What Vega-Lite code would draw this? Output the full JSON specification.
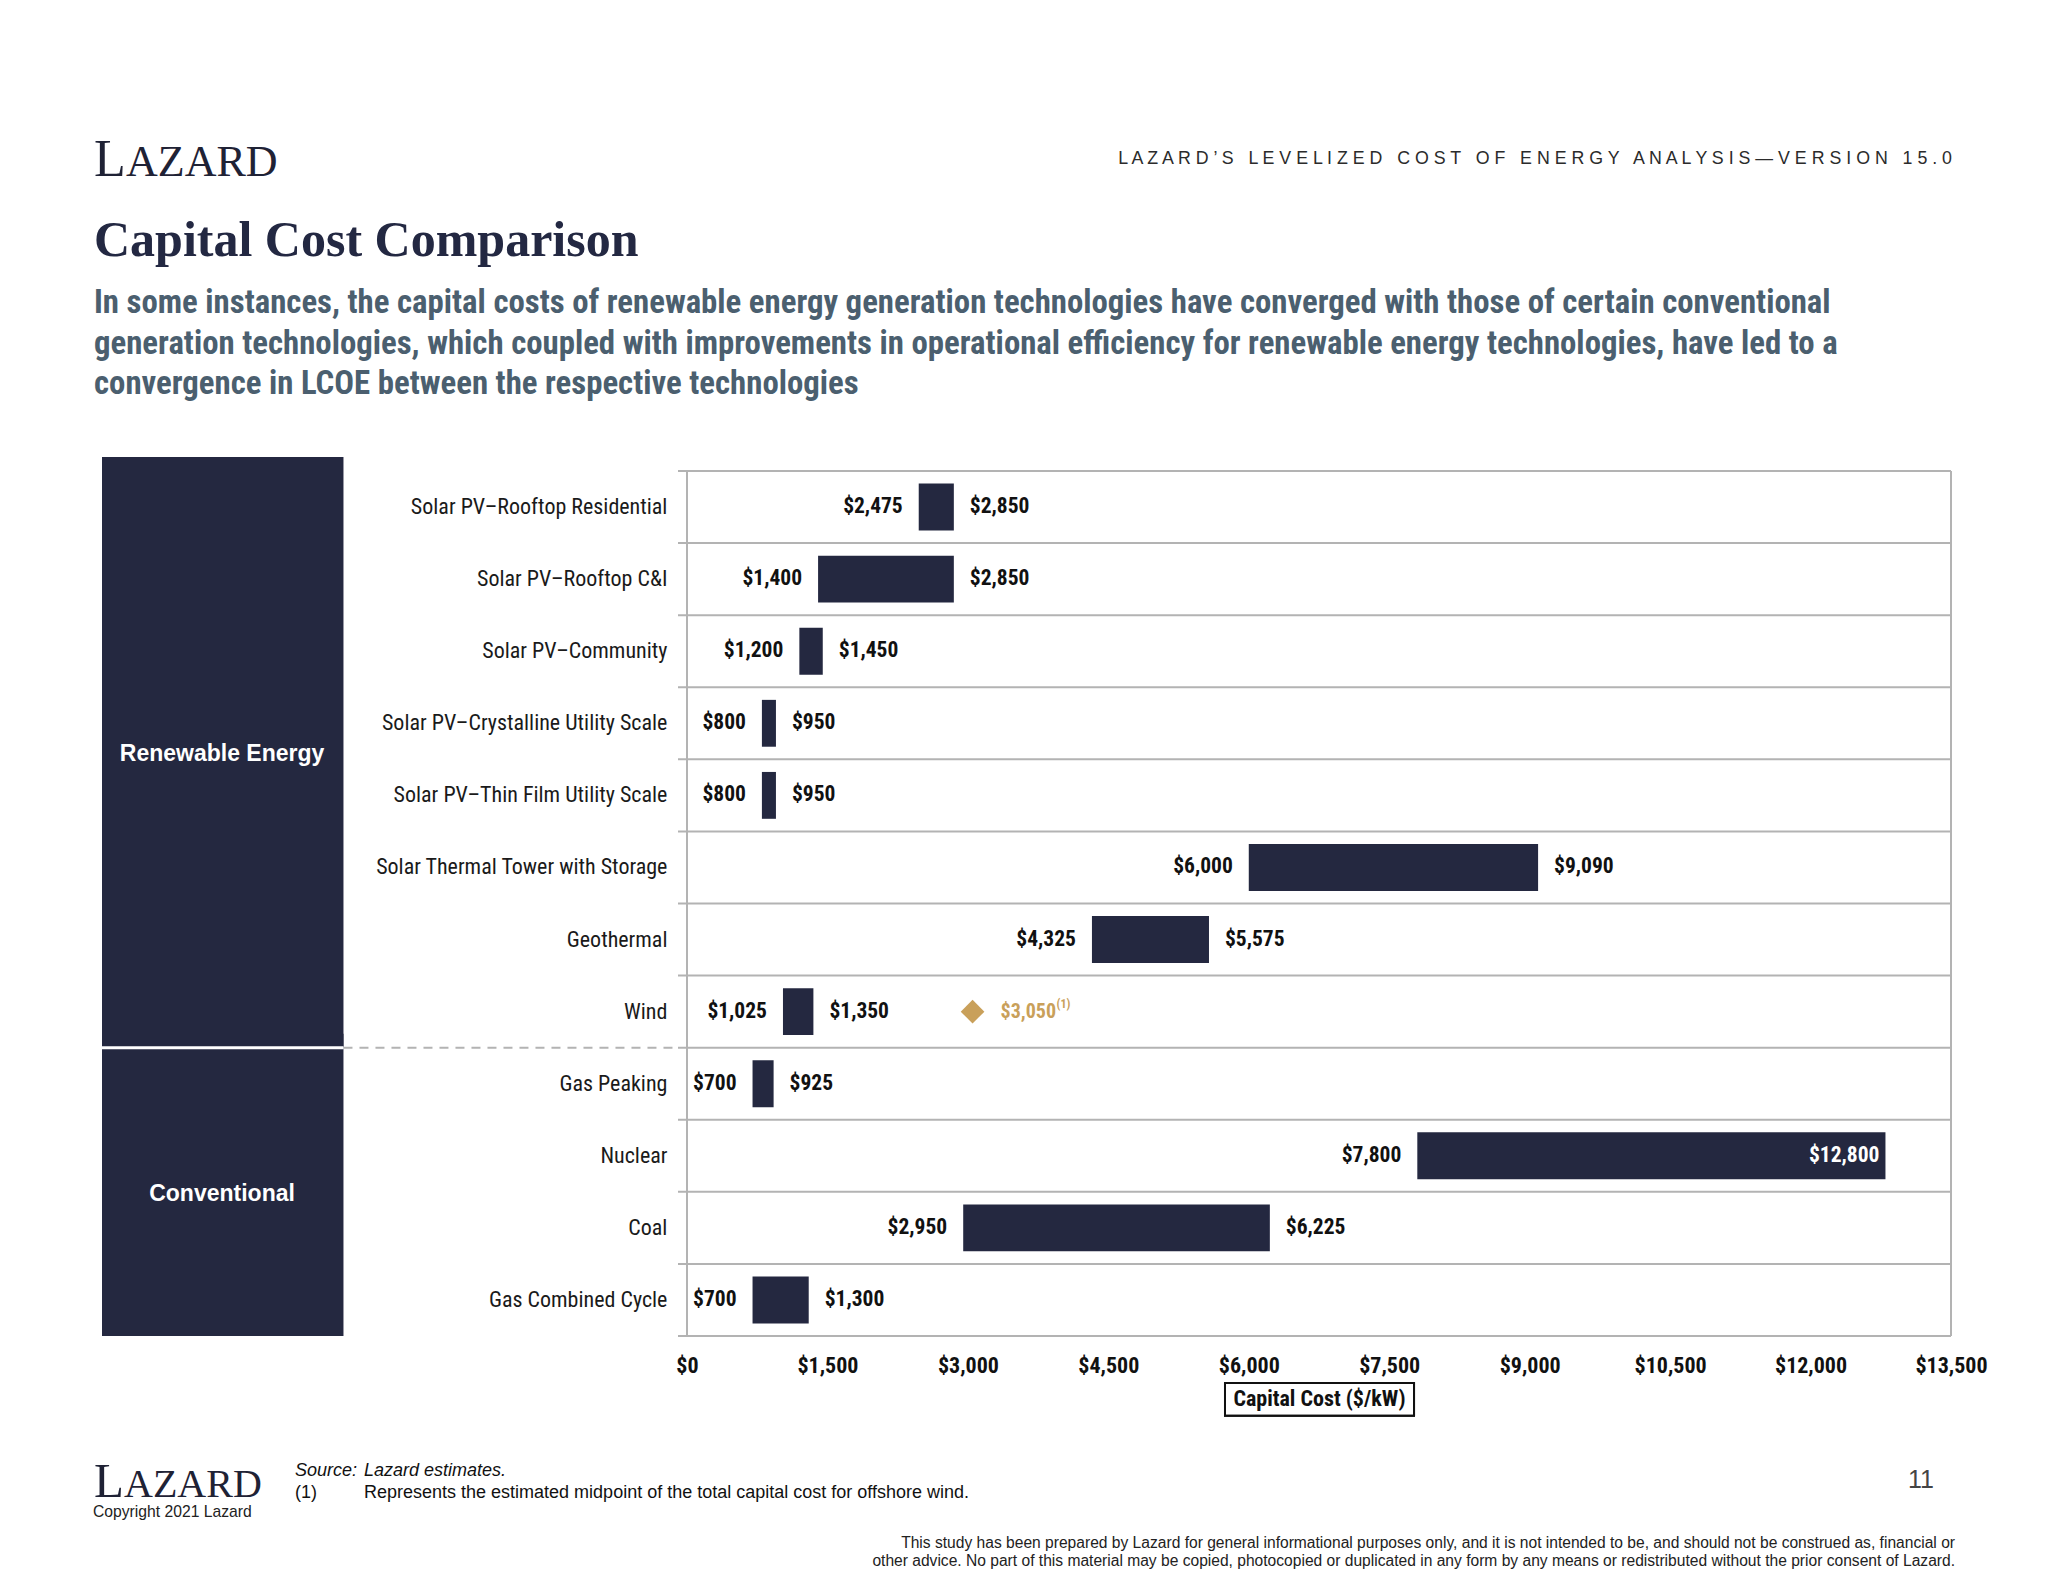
{
  "$schema": "https://vega.github.io/schema/vega-lite/v6.json",
  "width": 1849,
  "height": 865,
  "autosize": {"type": "none"},
  "padding": {"left": 102, "top": 471, "right": 97, "bottom": 246},
  "background": "white",
  "config": {"view": {"stroke": null}},
  "datasets": {
    "tech": [
      {"tech": "Solar PV–Rooftop Residential", "low": 2475, "high": 2850},
      {"tech": "Solar PV–Rooftop C&I", "low": 1400, "high": 2850},
      {"tech": "Solar PV–Community", "low": 1200, "high": 1450},
      {"tech": "Solar PV–Crystalline Utility Scale", "low": 800, "high": 950},
      {"tech": "Solar PV–Thin Film Utility Scale", "low": 800, "high": 950},
      {"tech": "Solar Thermal Tower with Storage", "low": 6000, "high": 9090},
      {"tech": "Geothermal", "low": 4325, "high": 5575},
      {"tech": "Wind", "low": 1025, "high": 1350, "offshore": 3050},
      {"tech": "Gas Peaking", "low": 700, "high": 925},
      {"tech": "Nuclear", "low": 7800, "high": 12800},
      {"tech": "Coal", "low": 2950, "high": 6225},
      {"tech": "Gas Combined Cycle", "low": 700, "high": 1300}
    ],
    "groups": [
      {"group": "Renewable Energy", "startRow": 0, "endRow": 8},
      {"group": "Conventional", "startRow": 8, "endRow": 12}
    ]
  },
  "resolve": {"scale": {"y": "independent"}},
  "layer": [
    {
      "data": {"name": "groups"},
      "layer": [
        {
          "mark": {"type": "rect", "color": "#242840", "yOffset": -14},
          "encoding": {
            "x": {"datum": -6248},
            "x2": {"datum": -3669},
            "y": {"field": "startRow", "type": "quantitative", "axis": null, "scale": {"domain": [0, 12], "reverse": true, "nice": false, "zero": false}},
            "y2": {"field": "endRow"}
          }
        },
        {
          "transform": [
            {"filter": "datum.group === 'Renewable Energy'"},
            {"fold": ["startRow", "endRow"], "as": ["edge", "row"]},
            {"aggregate": [{"op": "mean", "field": "row", "as": "mid"}], "groupby": ["group"]}
          ],
          "mark": {"type": "text", "color": "white", "font": "Liberation Sans, Arial, sans-serif", "fontWeight": "bold", "fontSize": 23, "align": "center", "baseline": "middle", "dy": -5},
          "encoding": {
            "x": {"datum": -4966},
            "y": {"field": "mid", "type": "quantitative", "axis": null},
            "text": {"field": "group"}
          }
        },
        {
          "transform": [
            {"filter": "datum.group === 'Conventional'"},
            {"fold": ["startRow", "endRow"], "as": ["edge", "row"]},
            {"aggregate": [{"op": "mean", "field": "row", "as": "mid"}], "groupby": ["group"]}
          ],
          "mark": {"type": "text", "color": "white", "font": "Liberation Sans, Arial, sans-serif", "fontWeight": "bold", "fontSize": 23, "align": "center", "baseline": "middle", "dy": 2},
          "encoding": {
            "x": {"datum": -4966},
            "y": {"field": "mid", "type": "quantitative", "axis": null},
            "text": {"field": "group"}
          }
        },
        {
          "mark": {"type": "rule", "color": "#b3b3b3", "strokeWidth": 2},
          "encoding": {"x": {"datum": 0}, "y": {"datum": 0}, "y2": {"datum": 12}}
        },
        {
          "mark": {"type": "rule", "color": "#b3b3b3", "strokeWidth": 2},
          "encoding": {"x": {"datum": 13500}, "y": {"datum": 0}, "y2": {"datum": 12}}
        },
        {
          "mark": {"type": "rect", "fill": null, "fillOpacity": 0, "stroke": "#111111", "strokeWidth": 2},
          "encoding": {"x": {"datum": 5746}, "x2": {"datum": 7765}, "y": {"datum": 12.652}, "y2": {"datum": 13.106}}
        }
      ]
    },
    {
      "data": {"name": "tech"},
      "layer": [
        {
          "mark": {"type": "rule", "color": "#b3b3b3", "strokeWidth": 2},
          "encoding": {
            "y": {"field": "tech", "type": "nominal", "bandPosition": 0, "axis": null, "scale": {"domain": ["Solar PV–Rooftop Residential", "Solar PV–Rooftop C&I", "Solar PV–Community", "Solar PV–Crystalline Utility Scale", "Solar PV–Thin Film Utility Scale", "Solar Thermal Tower with Storage", "Geothermal", "Wind", "Gas Peaking", "Nuclear", "Coal", "Gas Combined Cycle"], "paddingInner": 0, "paddingOuter": 0}},
            "x": {"datum": -96},
            "x2": {"datum": 13500}
          }
        },
        {
          "transform": [{"filter": "datum.tech === 'Gas Combined Cycle'"}],
          "mark": {"type": "rule", "color": "#b3b3b3", "strokeWidth": 2},
          "encoding": {
            "y": {"field": "tech", "type": "nominal", "bandPosition": 1, "axis": null},
            "x": {"datum": -96},
            "x2": {"datum": 13500}
          }
        },
        {
          "transform": [{"filter": "datum.tech === 'Gas Peaking'"}],
          "mark": {"type": "rule", "color": "#b3b3b3", "strokeWidth": 2, "strokeDash": [9, 7]},
          "encoding": {
            "y": {"field": "tech", "type": "nominal", "bandPosition": 0, "axis": null},
            "x": {"datum": -3669},
            "x2": {"datum": -96}
          }
        },
        {
          "transform": [{"filter": "datum.tech === 'Gas Peaking'"}],
          "mark": {"type": "rule", "color": "white", "strokeWidth": 3},
          "encoding": {
            "y": {"field": "tech", "type": "nominal", "bandPosition": 0, "axis": null},
            "x": {"datum": -6248},
            "x2": {"datum": -3669}
          }
        },
        {
          "mark": {"type": "text", "align": "right", "baseline": "middle", "font": "Liberation Sans Narrow, Arial Narrow, Roboto Condensed, DejaVu Sans Condensed, sans-serif", "fontSize": 22, "color": "#1a1a1a"},
          "encoding": {
            "y": {"field": "tech", "type": "nominal", "axis": null},
            "x": {"datum": -209},
            "text": {"field": "tech"}
          }
        },
        {
          "mark": {"type": "bar", "color": "#242840", "height": {"band": 0.65}},
          "encoding": {
            "y": {"field": "tech", "type": "nominal", "axis": null},
            "x": {
              "field": "low", "type": "quantitative",
              "scale": {"domain": [-6248, 13500], "nice": false, "zero": false},
              "axis": {
                "values": [0, 1500, 3000, 4500, 6000, 7500, 9000, 10500, 12000, 13500],
                "format": "$,.0f",
                "domain": false, "ticks": false, "grid": false,
                "labelFont": "Liberation Sans Narrow, Arial Narrow, Roboto Condensed, DejaVu Sans Condensed, sans-serif",
                "labelFontWeight": "bold", "labelFontSize": 22, "labelColor": "#111111",
                "labelPadding": 19, "labelOverlap": false, "labelFlush": false,
                "title": "Capital Cost ($/kW)",
                "titleFont": "Liberation Sans Narrow, Arial Narrow, Roboto Condensed, DejaVu Sans Condensed, sans-serif",
                "titleFontWeight": "bold", "titleFontSize": 22, "titleColor": "#111111",
                "titleX": 1217, "titleY": 62, "titleAlign": "center", "titleBaseline": "middle", "titleAngle": 0
              }
            },
            "x2": {"field": "high"}
          }
        },
        {
          "mark": {"type": "text", "align": "right", "baseline": "middle", "dx": -16, "font": "Liberation Sans Narrow, Arial Narrow, Roboto Condensed, DejaVu Sans Condensed, sans-serif", "fontWeight": "bold", "fontSize": 21.5, "color": "#111111"},
          "encoding": {
            "y": {"field": "tech", "type": "nominal", "axis": null},
            "x": {"field": "low", "type": "quantitative"},
            "text": {"field": "low", "type": "quantitative", "format": "$,.0f"}
          }
        },
        {
          "transform": [{"filter": "datum.tech !== 'Nuclear'"}],
          "mark": {"type": "text", "align": "left", "baseline": "middle", "dx": 16, "font": "Liberation Sans Narrow, Arial Narrow, Roboto Condensed, DejaVu Sans Condensed, sans-serif", "fontWeight": "bold", "fontSize": 21.5, "color": "#111111"},
          "encoding": {
            "y": {"field": "tech", "type": "nominal", "axis": null},
            "x": {"field": "high", "type": "quantitative"},
            "text": {"field": "high", "type": "quantitative", "format": "$,.0f"}
          }
        },
        {
          "transform": [{"filter": "datum.tech === 'Nuclear'"}],
          "mark": {"type": "text", "align": "right", "baseline": "middle", "dx": -6, "font": "Liberation Sans Narrow, Arial Narrow, Roboto Condensed, DejaVu Sans Condensed, sans-serif", "fontWeight": "bold", "fontSize": 21.5, "color": "white"},
          "encoding": {
            "y": {"field": "tech", "type": "nominal", "axis": null},
            "x": {"field": "high", "type": "quantitative"},
            "text": {"field": "high", "type": "quantitative", "format": "$,.0f"}
          }
        },
        {
          "transform": [{"filter": "isValid(datum.offshore)"}],
          "mark": {"type": "point", "shape": "diamond", "filled": true, "color": "#c9a05a", "opacity": 1, "size": 560},
          "encoding": {
            "y": {"field": "tech", "type": "nominal", "axis": null},
            "x": {"field": "offshore", "type": "quantitative"}
          }
        },
        {
          "transform": [{"filter": "isValid(datum.offshore)"}],
          "mark": {"type": "text", "align": "left", "baseline": "middle", "dx": 28, "font": "Liberation Sans Narrow, Arial Narrow, Roboto Condensed, DejaVu Sans Condensed, sans-serif", "fontWeight": "bold", "fontSize": 20, "color": "#c9a05a"},
          "encoding": {
            "y": {"field": "tech", "type": "nominal", "axis": null},
            "x": {"field": "offshore", "type": "quantitative"},
            "text": {"field": "offshore", "type": "quantitative", "format": "$,.0f"}
          }
        },
        {
          "transform": [{"filter": "isValid(datum.offshore)"}],
          "mark": {"type": "text", "align": "left", "baseline": "middle", "dx": 84, "dy": -8, "font": "Liberation Sans Narrow, Arial Narrow, Roboto Condensed, DejaVu Sans Condensed, sans-serif", "fontWeight": "bold", "fontSize": 12, "color": "#c9a05a"},
          "encoding": {
            "y": {"field": "tech", "type": "nominal", "axis": null},
            "x": {"field": "offshore", "type": "quantitative"},
            "text": {"value": "(1)"}
          }
        }
      ]
    },
    {
      "data": {"values": [{}]},
      "layer": [
        {"mark": {"type": "text", "x": -8, "y": -295, "align": "left", "baseline": "alphabetic", "font": "Liberation Serif, serif", "fontSize": 52, "color": "#1f2235", "text": "L"}},
        {"mark": {"type": "text", "x": 24, "y": -295, "align": "left", "baseline": "alphabetic", "font": "Liberation Serif, serif", "fontSize": 44, "color": "#1f2235", "text": "AZARD"}},
        {"mark": {"type": "text", "x": 1850, "y": -312, "align": "right", "baseline": "middle", "font": "Liberation Sans, Arial, sans-serif", "fontSize": 17.8, "color": "#2b2b2b", "text": "L A Z A R D ’ S \u00a0 L E V E L I Z E D \u00a0 C O S T \u00a0 O F \u00a0 E N E R G Y \u00a0 A N A L Y S I S — V E R S I O N \u00a0 1 5 . 0"}},
        {"mark": {"type": "rule", "x": -8, "x2": 1853, "y": -285.5, "y2": -285.5, "color": "#d3d3d3", "strokeWidth": 3}, "encoding": {}},
        {"mark": {"type": "text", "x": -8, "y": -215, "align": "left", "baseline": "alphabetic", "font": "Liberation Serif, serif", "fontWeight": "bold", "fontSize": 50, "color": "#232842", "text": "Capital Cost Comparison"}},
        {"mark": {"type": "text", "x": -8, "y": -158, "align": "left", "baseline": "alphabetic", "lineHeight": 40.5, "font": "Liberation Sans Narrow, Arial Narrow, Roboto Condensed, DejaVu Sans Condensed, sans-serif", "fontWeight": "bold", "fontSize": 32.8, "color": "#4b5f6f", "text": ["In some instances, the capital costs of renewable energy generation technologies have converged with those of certain conventional", "generation technologies, which coupled with improvements in operational efficiency for renewable energy technologies, have led to a", "convergence in LCOE between the respective technologies"]}},
        {"mark": {"type": "text", "x": -8, "y": 1026, "align": "left", "baseline": "alphabetic", "font": "Liberation Serif, serif", "fontSize": 49, "color": "#1f2235", "text": "L"}},
        {"mark": {"type": "text", "x": 22, "y": 1026, "align": "left", "baseline": "alphabetic", "font": "Liberation Serif, serif", "fontSize": 40, "color": "#1f2235", "text": "AZARD"}},
        {"mark": {"type": "text", "x": -9, "y": 1041, "align": "left", "baseline": "middle", "font": "Liberation Sans, Arial, sans-serif", "fontSize": 15.7, "color": "#222222", "text": "Copyright 2021 Lazard"}},
        {"mark": {"type": "text", "x": 193, "y": 1000, "align": "left", "baseline": "middle", "font": "Liberation Sans, Arial, sans-serif", "fontStyle": "italic", "fontSize": 18, "color": "#111111", "text": "Source:"}},
        {"mark": {"type": "text", "x": 262, "y": 1000, "align": "left", "baseline": "middle", "font": "Liberation Sans, Arial, sans-serif", "fontStyle": "italic", "fontSize": 18, "color": "#111111", "text": "Lazard estimates."}},
        {"mark": {"type": "text", "x": 193, "y": 1022, "align": "left", "baseline": "middle", "font": "Liberation Sans, Arial, sans-serif", "fontSize": 18, "color": "#111111", "text": "(1)"}},
        {"mark": {"type": "text", "x": 262, "y": 1022, "align": "left", "baseline": "middle", "font": "Liberation Sans, Arial, sans-serif", "fontSize": 18, "color": "#111111", "text": "Represents the estimated midpoint of the total capital cost for offshore wind."}},
        {"mark": {"type": "text", "x": 1832, "y": 1009, "align": "right", "baseline": "middle", "font": "Liberation Sans, Arial, sans-serif", "fontSize": 25, "color": "#444444", "text": "11"}},
        {"mark": {"type": "rule", "x": 1852, "x2": 1852, "y": 989, "y2": 1026, "color": "#c8c8c8", "strokeWidth": 2}, "encoding": {}},
        {"mark": {"type": "text", "x": 1853, "y": 1077, "align": "right", "baseline": "alphabetic", "lineHeight": 18.3, "font": "Liberation Sans, Arial, sans-serif", "fontSize": 15.6, "color": "#222222", "text": ["This study has been prepared by Lazard for general informational purposes only, and it is not intended to be, and should not be construed as, financial or", "other advice. No part of this material may be copied, photocopied or duplicated in any form by any means or redistributed without the prior consent of Lazard."]}}
      ]
    }
  ]
}
